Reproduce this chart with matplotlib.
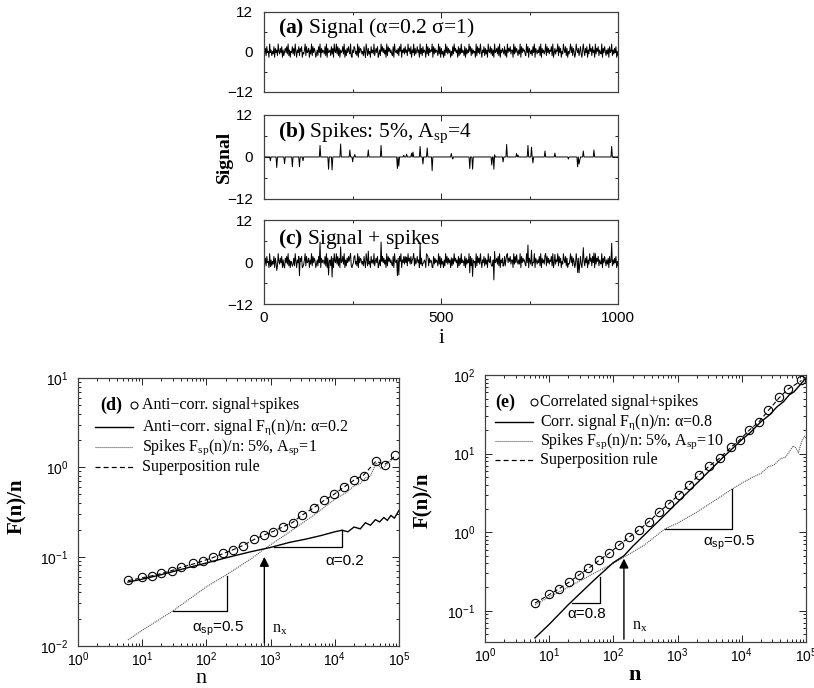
import numpy as np
import matplotlib
matplotlib.use("Agg")
import matplotlib.pyplot as plt
from matplotlib.ticker import MultipleLocator, LogLocator, NullFormatter

# ---- top panels: noise signal (one digit per sample, read as a band), spikes ----
signal_digits = (
    "63728451946253817462953748162574839261548372951648"
    "27581436928457163928475136284917465382917456283719"
    "54938271645839162748539216487352918476352841962735"
    "18463925748136295847361928574632819546372859164738"
    "46295738164927358461937284651938274659183746529381"
    "73516294837461528395746182739465281736495827364519"
    "28473951648273619548372619457382916475382619475836"
    "61938475263918475632948175362849175364829174635928"
    "47365829147365928471539648271536948275139647258316"
    "95274816395728461937582643917485263718459263748152"
)
digit_value = [-2.4, -1.6, -1.1, -0.6, -0.2, 0.2, 0.6, 1.1, 1.6, 2.4]
spike_pos = [19, 37, 58, 80, 101, 110, 159, 183, 193, 217, 242, 251, 256, 294,
             331, 377, 381, 395, 402, 416, 421, 440, 449, 460, 475, 529, 534,
             581, 590, 644, 649, 652, 675, 686, 713, 718, 746, 755, 760, 793,
             821, 859, 885, 889, 892, 901, 932, 981]
spike_amp = [-1.1, -3.0, -1.9, -2.8, -2.8, -1.1, 3.3, -3.5, -3.7, 3.7, 2.0, -1.4,
             0.7, 2.0, 3.3, -3.3, -2.6, 0.5, 0.8, 1.1, 1.4, 3.0, -2.0, 2.6, -3.9,
             1.0, -0.6, -3.3, -3.5, -2.3, -3.5, 0.6, -1.4, 3.6, 1.0, 0.5, 3.3,
             2.8, -1.7, 1.7, 1.1, -0.6, -2.8, -2.0, -1.0, 1.7, 2.0, 3.0]

# ---- panel (d): anti-correlated signal + spikes ----
n_d_circ = [6, 10, 14, 20, 29, 40, 63, 90, 128, 180, 256, 367, 545, 778, 1100,
            1540, 2200, 3090, 4680, 6760, 9770, 13800, 20000, 28200, 43600,
            60300, 87100]
F_d_circ = [0.055, 0.059, 0.0615, 0.065, 0.070, 0.076, 0.084, 0.090, 0.098,
            0.109, 0.119, 0.132, 0.157, 0.175, 0.191, 0.215, 0.240, 0.295,
            0.35, 0.43, 0.50, 0.61, 0.73, 0.81, 1.18, 1.07, 1.36]
F_d_sup = [0.054, 0.058, 0.061, 0.065, 0.070, 0.076, 0.083, 0.090, 0.098,
           0.108, 0.119, 0.133, 0.155, 0.174, 0.192, 0.215, 0.242, 0.292,
           0.352, 0.425, 0.50, 0.60, 0.72, 0.82, 1.17, 1.08, 1.34]
n_d_sig = [6, 10, 20, 50, 100, 200, 500, 1000, 2000, 3500, 6000, 10000, 13000,
           16000, 20000, 25000, 30000, 36000, 43000, 50000, 58000, 66000,
           75000, 85000, 100000]
F_d_sig = [0.052, 0.056, 0.063, 0.075, 0.085, 0.097, 0.114, 0.127, 0.145,
           0.157, 0.172, 0.19, 0.198, 0.19, 0.215, 0.205, 0.24, 0.225, 0.26,
           0.245, 0.275, 0.255, 0.29, 0.27, 0.33]
n_d_sp = [6, 10, 30, 100, 200, 500, 800, 1000, 2000, 5000, 10000, 15000, 20000,
          25000, 30000, 36000, 44000, 52000, 60000, 70000, 80000, 90000, 100000]
F_d_sp = [0.0117, 0.015, 0.0247, 0.046, 0.062, 0.095, 0.122, 0.136, 0.19, 0.30,
          0.44, 0.52, 0.62, 0.66, 0.76, 0.80, 1.12, 0.98, 1.02, 1.15, 1.25,
          1.2, 1.3]
tri_d_sp = ([30, 207, 207], [0.0247, 0.0247, 0.0615])
tri_d_sig = ([1140, 13100, 13100], [0.129, 0.129, 0.198])
nx_d, nx_d_top = 800, 0.107

# ---- panel (e): correlated signal + spikes ----
n_e_circ = [6, 10, 14.2, 20.3, 29.1, 40.7, 60.4, 86.4, 124, 175, 250, 358, 513,
            733, 1047, 1496, 2138, 3090, 4570, 6760, 9330, 13200, 18600, 25700,
            38000, 52500, 85100]
F_e_circ = [0.126, 0.162, 0.19, 0.231, 0.288, 0.347, 0.44, 0.54, 0.69, 0.865,
            1.08, 1.36, 1.82, 2.28, 3.0, 4.0, 5.3, 6.9, 8.7, 12.2, 14.9, 20.0,
            25.4, 36, 52, 66, 86]
F_e_sup = [0.125, 0.16, 0.19, 0.23, 0.285, 0.345, 0.44, 0.54, 0.69, 0.86, 1.07,
           1.36, 1.8, 2.3, 3.0, 3.95, 5.3, 6.9, 8.8, 12.0, 15.0, 20.0, 25.5,
           35, 51, 66, 85]
n_e_sig = [6, 10, 20, 50, 100, 146, 200, 500, 1000, 2000, 5000, 10000, 14000,
           20000, 27000, 35000, 45000, 55000, 65000, 80000, 100000]
F_e_sig = [0.045, 0.067, 0.12, 0.245, 0.41, 0.50, 0.66, 1.37, 2.4, 4.2, 8.8,
           15.0, 19.0, 25.5, 31, 39, 46, 56, 61, 74, 92]
n_e_sp = [6, 10, 20, 50, 100, 146, 300, 635, 1000, 2000, 4000, 6950, 10000,
          14000, 20000, 26000, 32000, 40000, 48000, 56000, 63000, 70000, 76000,
          85000, 95000, 100000]
F_e_sp = [0.118, 0.15, 0.2, 0.3, 0.4, 0.48, 0.68, 1.1, 1.3, 1.8, 2.6, 3.5, 4.2,
          4.9, 5.6, 6.8, 7.2, 8.6, 9.0, 10.8, 12.5, 11.8, 10.2, 14.0, 16.7, 15.5]
tri_e_sig = ([22.4, 61.8, 61.8], [0.126, 0.126, 0.272])
tri_e_sp = ([635, 6950, 6950], [1.1, 1.1, 3.54])
nx_e, nx_e_top = 146, 0.5

plt.rcParams["font.family"] = ["Liberation Sans", "DejaVu Sans"]
plt.rcParams["mathtext.fontset"] = "custom"
plt.rcParams["mathtext.rm"] = "Liberation Serif"
plt.rcParams["mathtext.it"] = "Liberation Serif:italic"
plt.rcParams["mathtext.bf"] = "Liberation Serif:bold"
SERIF = ["Liberation Serif", "DejaVu Serif"]

sig = np.array([digit_value[int(c)] for c in signal_digits])
npts = len(sig)
i_axis = np.linspace(0, 1000, npts)
spikes = np.zeros(npts)
for p, a in zip(spike_pos, spike_amp):
    spikes[int(round(p / 1000 * (npts - 1)))] = a
combined = sig + spikes

fig = plt.figure(figsize=(8.14, 6.88), dpi=100)

# top three panels
boxes = [(0.3243, 0.8663, 0.435, 0.1163),
         (0.3243, 0.7108, 0.435, 0.1221),
         (0.3243, 0.5581, 0.435, 0.1221)]
series = [sig, spikes, combined]
titles = [r"$\mathbf{(a)}$ Signal (α=0.2 σ=1)",
          r"$\mathbf{(b)}$ Spikes: 5%, A$_{\mathdefault{sp}}$=4",
          r"$\mathbf{(c)}$ Signal + spikes"]
title_y = [0.80, 0.79, 0.77]
for k in range(3):
    ax = fig.add_axes(boxes[k])
    ax.plot(i_axis, series[k], color="k", lw=0.7)
    ax.set_xlim(0, 1000)
    ax.set_ylim(-12, 12)
    ax.xaxis.set_major_locator(MultipleLocator(500))
    ax.xaxis.set_minor_locator(MultipleLocator(250))
    ax.yaxis.set_major_locator(MultipleLocator(12))
    ax.yaxis.set_minor_locator(MultipleLocator(6))
    ax.tick_params(which="both", direction="in", top=True, right=True,
                   labelsize=11, width=0.6)
    ax.tick_params(which="major", length=4)
    ax.tick_params(which="minor", length=2.5)
    ax.tick_params(axis="y", pad=8)
    ax.tick_params(axis="x", pad=5)
    if k < 2:
        ax.tick_params(labelbottom=False)
    for s in ax.spines.values():
        s.set_linewidth(0.9)
        s.set_color("0.25")
    ax.text(0.04, title_y[k], titles[k], transform=ax.transAxes,
            family=SERIF, size=15.5, va="center")

fig.text(0.276, 0.772, "Signal", rotation=90, family=SERIF, weight="bold",
         size=14, ha="center", va="center")
fig.text(0.5418, 0.5087, "i", family=SERIF, size=15, ha="center", va="center")


def log_axes(box, ylim):
    ax = fig.add_axes(box)
    ax.set_xscale("log")
    ax.set_yscale("log")
    ax.set_xlim(1, 1e5)
    ax.set_ylim(*ylim)
    for axis in (ax.xaxis, ax.yaxis):
        axis.set_major_locator(LogLocator(base=10, numticks=20))
        axis.set_minor_locator(LogLocator(base=10, subs=np.arange(2, 10), numticks=20))
        axis.set_minor_formatter(NullFormatter())
    ax.tick_params(which="both", direction="in", top=True, right=True,
                   labelsize=10, width=0.6)
    ax.tick_params(which="major", length=5)
    ax.tick_params(which="minor", length=2.5)
    ax.tick_params(axis="y", pad=7)
    for s in ax.spines.values():
        s.set_linewidth(0.9)
        s.set_color("0.25")
    return ax


def legend_block(ax, tag, labels, x0, x1, xc, xt, xtag, ys):
    tr = ax.transAxes
    ax.text(xtag, ys[0], tag, transform=tr, family=SERIF, weight="bold",
            size=13, ha="right", va="center")
    ax.plot([xc], [ys[0]], "o", transform=tr, mfc="none", mec="k", ms=5, mew=0.8)
    ax.plot([x0, x1], [ys[1]] * 2, transform=tr, color="k", lw=1.0)
    ax.plot([x0, x1], [ys[2]] * 2, transform=tr, color="0.35", lw=0.8, ls=(0, (1, 0.8)))
    ax.plot([x0, x1], [ys[3]] * 2, transform=tr, color="k", lw=0.9, ls=(0, (4, 2.5)))
    for lab, y in zip(labels, ys):
        ax.text(xt, y, lab, transform=tr, family=SERIF, size=11.5, va="center")


def draw_panel(ax, nc, Fc, Fs, nsig, Fsig, nsp, Fsp):
    ax.plot(nsp, Fsp, color="0.35", lw=0.8, ls=(0, (1, 0.8)))
    ax.plot(nsig, Fsig, color="k", lw=1.0)
    ax.plot(nc, Fs, color="k", lw=0.8, ls=(0, (4, 2.5)))
    ax.plot(nc, Fc, "o", mfc="none", mec="k", ms=6, mew=0.8)


# panel (d)
axd = log_axes((0.0958, 0.061, 0.3943, 0.3895), (1e-2, 1e1))
draw_panel(axd, n_d_circ, F_d_circ, F_d_sup, n_d_sig, F_d_sig, n_d_sp, F_d_sp)
axd.plot(*tri_d_sp, color="k", lw=0.9)
axd.plot(*tri_d_sig, color="k", lw=0.9)
axd.annotate("", xy=(nx_d, nx_d_top), xytext=(nx_d, 1e-2),
             arrowprops=dict(arrowstyle="-|>", color="k", lw=1.0, mutation_scale=14))
axd.text(14300, 0.0887, "α=0.2", size=11, ha="center", va="center")
axd.text(154, 0.0157, r"α$_{\mathdefault{sp}}$=0.5", size=11, ha="center", va="center")
axd.text(1070, 0.0157, r"n$_{\mathdefault{x}}$", family=SERIF, size=11.5,
         ha="left", va="center")
legend_block(axd, "(d)",
             ["Anti−corr. signal+spikes",
              r"Anti−corr. signal F$_{\mathdefault{η}}$(n)/n: α=0.2",
              r"Spikes F$_{\mathdefault{sp}}$(n)/n: 5%, A$_{\mathdefault{sp}}$=1",
              "Superposition rule"],
             0.053, 0.171, 0.175, 0.198, 0.137, [0.899, 0.817, 0.743, 0.668])

# panel (e)
axe = log_axes((0.5958, 0.0669, 0.3943, 0.388), (0.04, 100))
draw_panel(axe, n_e_circ, F_e_circ, F_e_sup, n_e_sig, F_e_sig, n_e_sp, F_e_sp)
axe.plot(*tri_e_sig, color="k", lw=0.9)
axe.plot(*tri_e_sp, color="k", lw=0.9)
axe.annotate("", xy=(nx_e, nx_e_top), xytext=(nx_e, 0.04),
             arrowprops=dict(arrowstyle="-|>", color="k", lw=1.0, mutation_scale=14))
axe.text(39, 0.091, "α=0.8", size=11, ha="center", va="center")
axe.text(6300, 0.73, r"α$_{\mathdefault{sp}}$=0.5", size=11, ha="center", va="center")
axe.text(193, 0.063, r"n$_{\mathdefault{x}}$", family=SERIF, size=11.5,
         ha="left", va="center")
legend_block(axe, "(e)",
             ["Correlated signal+spikes",
              r"Corr. signal F$_{\mathdefault{η}}$(n)/n: α=0.8",
              r"Spikes F$_{\mathdefault{sp}}$(n)/n: 5%, A$_{\mathdefault{sp}}$=10",
              "Superposition rule"],
             0.031, 0.150, 0.153, 0.171, 0.093, [0.899, 0.824, 0.753, 0.682])

fig.text(0.021, 0.2645, "F(n)/n", rotation=90, family=SERIF, weight="bold",
         size=15, ha="center", va="center")
fig.text(0.520, 0.273, "F(n)/n", rotation=90, family=SERIF, weight="bold",
         size=15, ha="center", va="center")
fig.text(0.2465, 0.0145, "n", family=SERIF, size=16, ha="center", va="center")
fig.text(0.78, 0.0195, "n", family=SERIF, weight="bold", size=16,
         ha="center", va="center")

fig.savefig("out.png", dpi=100)
